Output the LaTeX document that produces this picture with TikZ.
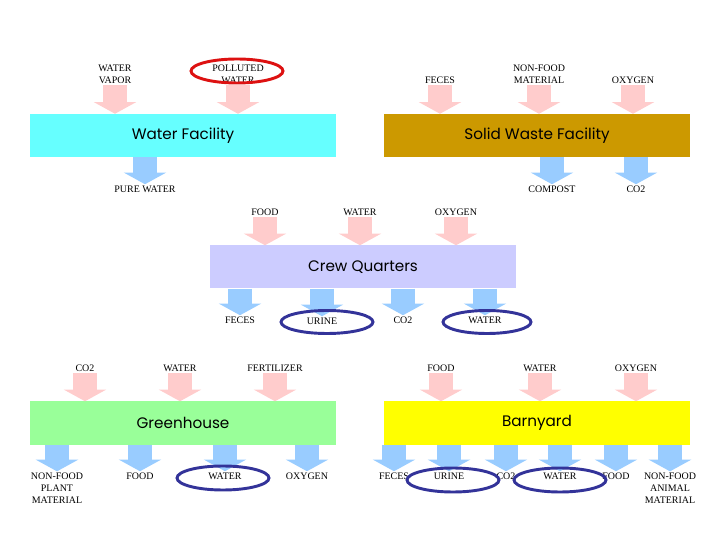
\documentclass[tikz,border=0pt]{standalone}
\usepackage{fontspec}
\usetikzlibrary{arrows.meta}
\usetikzlibrary{positioning}
\newfontfamily\lblfont{Liberation Serif}
\newfontfamily\boxfont{Poppins}
\definecolor{InPink}{HTML}{FFCCCC}
\definecolor{OutBlue}{HTML}{99CCFF}
\definecolor{WaterCyan}{HTML}{66FFFF}
\definecolor{WasteGold}{HTML}{CC9900}
\definecolor{CrewLilac}{HTML}{CCCCFF}
\definecolor{PlantGreen}{HTML}{99FF99}
\definecolor{BarnYellow}{HTML}{FFFF00}
\definecolor{RingBlue}{HTML}{333399}
\definecolor{RingRed}{HTML}{DD1111}
\tikzset{
  facility/.style={minimum width=9.18cm, minimum height=1.29cm, inner sep=0pt,
    font=\boxfont\fontsize{13}{15}\selectfont},
  flowlbl/.style={align=center, inner sep=1pt,
    font=\lblfont\fontsize{8.5}{10.2}\selectfont},
  inflow/.style={draw=InPink, line width=20pt, -{Triangle[width=36pt,length=10pt]}},
  outflow/.style={draw=OutBlue, line width=20pt, -{Triangle[width=36pt,length=10pt]}},
  ring/.style={line width=2.5pt},
}

\begin{document}
\begin{tikzpicture}[x=0.03cm, y=-0.03cm]
  \useasboundingbox (0,0) rectangle (720,540);

  % facilities
  \node[facility, fill=WaterCyan]  (water) at (183,135.5) {Water Facility};
  \node[facility, fill=WasteGold]  (waste) at (537,135.5) {Solid Waste Facility};
  \node[facility, fill=CrewLilac]  (crew)  at (363,267)   {Crew Quarters};
  \node[facility, fill=PlantGreen] (green) at (183,423)   {Greenhouse};
  \node[facility, fill=BarnYellow] (barn)  at (537,423)   {Barnyard};

  % water facility
  \node[flowlbl] (wvapor)   at (115,74)  {WATER\\VAPOR};
  \node[flowlbl] (polluted) at (238,74)  {POLLUTED\\WATER};
  \node[flowlbl] (pure)     at (145,189) {PURE WATER};

  % solid waste facility
  \node[flowlbl] (swfeces)   at (440,80)  {FECES};
  \node[flowlbl] (swnonfood) at (539,74)  {NON-FOOD\\MATERIAL};
  \node[flowlbl] (swoxygen)  at (633,80)  {OXYGEN};
  \node[flowlbl] (compost)   at (552,189) {COMPOST};
  \node[flowlbl] (swco)      at (636,189) {CO2};

  % crew quarters
  \node[flowlbl] (cqfood)     at (265,212) {FOOD};
  \node[flowlbl] (cqwater)    at (360,212) {WATER};
  \node[flowlbl] (cqoxygen)   at (456,212) {OXYGEN};
  \node[flowlbl] (cqfeces)    at (240,320) {FECES};
  \node[flowlbl] (cqurine)    at (322,321) {URINE};
  \node[flowlbl] (cqco)       at (403,320) {CO2};
  \node[flowlbl] (cqwaterout) at (485,320) {WATER};

  % greenhouse
  \node[flowlbl] (ghco)       at (85,368)  {CO2};
  \node[flowlbl] (ghwater)    at (180,368) {WATER};
  \node[flowlbl] (ghfert)     at (275,368) {FERTILIZER};
  \node[flowlbl] (ghnonfood)  at (57,488)  {NON-FOOD\\PLANT\\MATERIAL};
  \node[flowlbl] (ghfood)     at (140,476) {FOOD};
  \node[flowlbl] (ghwaterout) at (225,476) {WATER};
  \node[flowlbl] (ghoxygen)   at (307,476) {OXYGEN};

  % barnyard
  \node[flowlbl] (byfood)     at (441,368) {FOOD};
  \node[flowlbl] (bywater)    at (540,368) {WATER};
  \node[flowlbl] (byoxygen)   at (636,368) {OXYGEN};
  \node[flowlbl] (byfeces)    at (394,476) {FECES};
  \node[flowlbl] (byurine)    at (449,476) {URINE};
  \node[flowlbl] (byco)       at (506,476) {CO2};
  \node[flowlbl] (bywaterout) at (560,476) {WATER};
  \node[flowlbl] (byfoodout)  at (616,476) {FOOD};
  \node[flowlbl] (bynonfood)  at (670,488) {NON-FOOD\\ANIMAL\\MATERIAL};

  % flows in and out
  \foreach \a in {wvapor,polluted}{%
    \draw[inflow] (\a) -- (\a |- water.north);
  }
  \draw[outflow] (water.south -| pure) -- (pure);
  \foreach \a in {swfeces,swnonfood,swoxygen}{%
    \draw[inflow] (\a) -- (\a |- waste.north);
  }
  \foreach \a in {compost,swco}{%
    \draw[outflow] (waste.south -| \a) -- (\a);
  }
  \foreach \a in {cqfood,cqwater,cqoxygen}{%
    \draw[inflow] (\a) -- (\a |- crew.north);
  }
  \foreach \a in {cqfeces,cqurine,cqco,cqwaterout}{%
    \draw[outflow] (crew.south -| \a) -- (\a);
  }
  \foreach \a in {ghco,ghwater,ghfert}{%
    \draw[inflow] (\a) -- (\a |- green.north);
  }
  \foreach \a in {ghnonfood,ghfood,ghwaterout,ghoxygen}{%
    \draw[outflow] (green.south -| \a) -- (\a);
  }
  \foreach \a in {byfood,bywater,byoxygen}{%
    \draw[inflow] (\a) -- (\a |- barn.north);
  }
  \foreach \a in {byfeces,byurine,byco,bywaterout,byfoodout,bynonfood}{%
    \draw[outflow] (barn.south -| \a) -- (\a);
  }

  % rings
  \draw[ring, RingRed]  (237,71)  ellipse [x radius=46, y radius=12];
  \draw[ring, RingBlue] (327,322) ellipse [x radius=46, y radius=11.5];
  \draw[ring, RingBlue] (487,322) ellipse [x radius=44, y radius=11.5];
  \draw[ring, RingBlue] (223,478) ellipse [x radius=46, y radius=12];
  \draw[ring, RingBlue] (453,480) ellipse [x radius=46, y radius=12];
  \draw[ring, RingBlue] (560,480) ellipse [x radius=46, y radius=12];
\end{tikzpicture}
\end{document}
